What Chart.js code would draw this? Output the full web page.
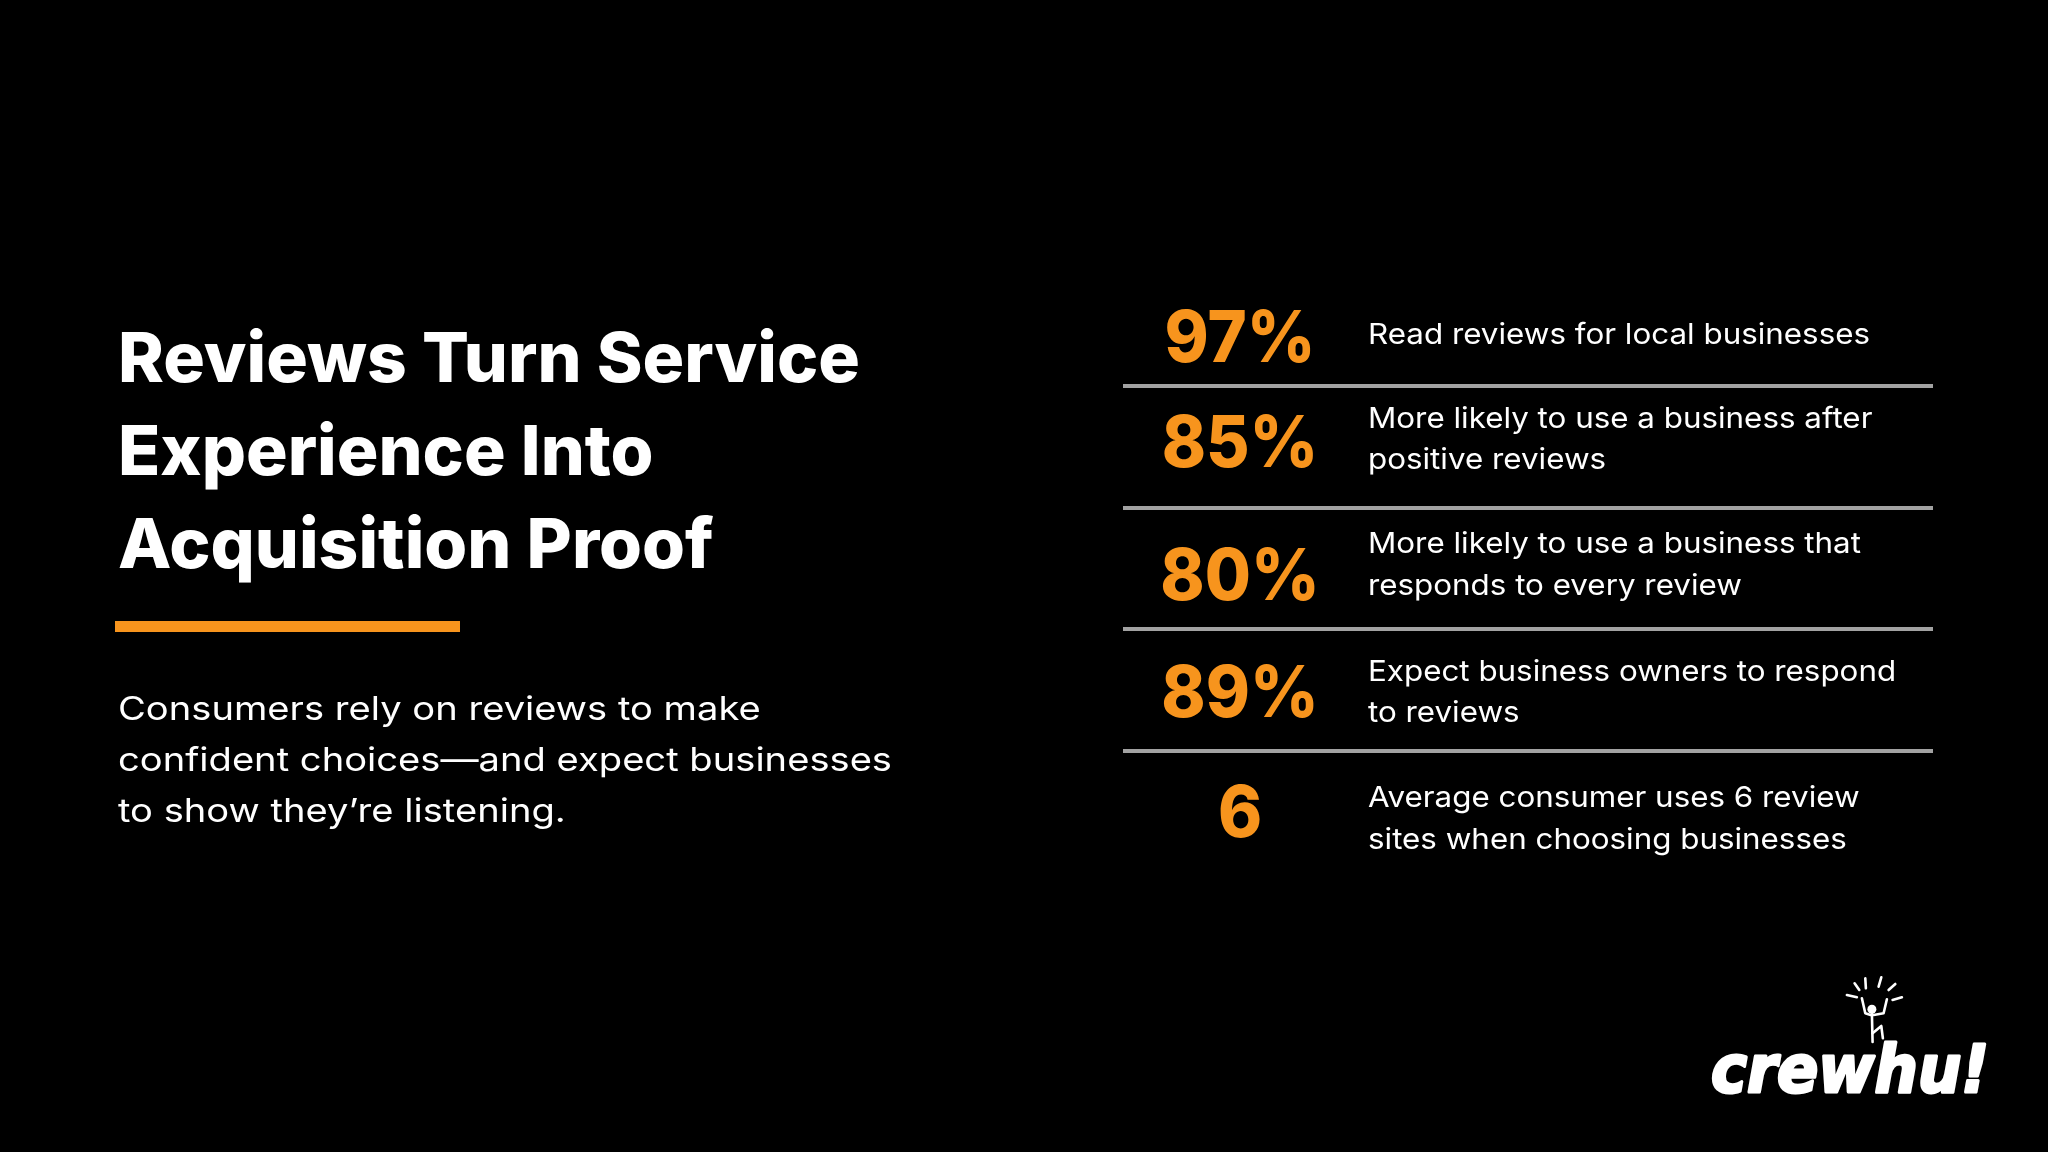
<!DOCTYPE html>
<html>
<head>
<meta charset="utf-8">
<title>Reviews Turn Service Experience Into Acquisition Proof</title>
<script src="https://cdn.jsdelivr.net/npm/chart.js@4.4.1/dist/chart.umd.min.js"></script>
<style>
  html, body { margin: 0; padding: 0; background: #000; }
  #wrap { position: relative; width: 2048px; height: 1152px; }
</style>
</head>
<body>
<div id="wrap"><canvas id="stats"></canvas></div>
<script>
// Data for the slide
const statValues = ['97%', '85%', '80%', '89%', '6'];
const statNumbers = [97, 85, 80, 89, 6];
const statLines = [
  ['Read reviews for local businesses'],
  ['More likely to use a business after', 'positive reviews'],
  ['More likely to use a business that', 'responds to every review'],
  ['Expect business owners to respond', 'to reviews'],
  ['Average consumer uses 6 review', 'sites when choosing businesses']
];
const headline = ['Reviews Turn Service', 'Experience Into', 'Acquisition Proof'];
const blurb = [
  'Consumers rely on reviews to make',
  'confident choices\u2014and expect businesses',
  'to show they\u2019re listening.'
];
const brand = 'crewhu!';

const ORANGE = '#F7941D';
const GRID = '#a2a2a2';
const FAMILY = 'Inter, "Open Sans", sans-serif';
// the original isn't perfectly centred in each row, small vertical shifts (px)
const numShift = [10, -6, 5, 1, 0];
const textShift = [8, -9, -5, 1, 6];

// size from cap height; returns the horizontal stretch that makes `sample` `width` wide
function fitFont(ctx, weight, cap, sample, width) {
  ctx.font = weight + ' ' + (cap / 0.727) + 'px ' + FAMILY;
  return width / ctx.measureText(sample).width;
}

function text(ctx, t, x, y, sx) {
  ctx.save();
  ctx.translate(x, y);
  ctx.scale(sx, 1);
  ctx.fillText(t, 0, 0);
  ctx.restore();
}

function line(ctx, pts, ox, oy) {
  ctx.beginPath();
  pts.forEach((p, i) => i ? ctx.lineTo(ox + p[0], oy + p[1]) : ctx.moveTo(ox + p[0], oy + p[1]));
  ctx.stroke();
}

const slidePlugin = {
  id: 'slide',
  afterDraw(chart) {
    const ctx = chart.ctx;
    const area = chart.chartArea;
    const meta = chart.getDatasetMeta(0);
    ctx.save();
    ctx.textBaseline = 'alphabetic';

    // big orange numbers, one per row
    ctx.textAlign = 'center';
    ctx.fillStyle = ORANGE;
    let sx = fitFont(ctx, 800, 52, statValues[0], 151);
    meta.data.forEach((bar, i) => {
      text(ctx, statValues[i], area.left + 117, bar.y + 26 + numShift[i], sx);
    });

    // row descriptions
    ctx.textAlign = 'left';
    ctx.fillStyle = '#ffffff';
    sx = fitFont(ctx, 400, 21, statLines[0][0], 502);
    const lh = 41.7;
    meta.data.forEach((bar, i) => {
      const lines = statLines[i];
      const first = bar.y - (21 + lh * (lines.length - 1)) / 2 + 21 + textShift[i];
      lines.forEach((t, j) => text(ctx, t, area.left + 245, first + j * lh, sx));
    });

    // left column: headline, rule, blurb
    sx = fitFont(ctx, 800, 50, headline[0], 742);
    headline.forEach((t, j) => text(ctx, t, 118, 381.7 + j * 93.2, sx));
    ctx.fillStyle = ORANGE;
    ctx.fillRect(115, 621, 345, 11);
    ctx.fillStyle = '#ffffff';
    sx = fitFont(ctx, 400, 24, blurb[1], 774);
    blurb.forEach((t, j) => text(ctx, t, 118, 720 + j * 51, sx));

    // logo
    ctx.font = 'italic bold 66px "DejaVu Sans", sans-serif';
    const lsx = 278 / ctx.measureText(brand).width;
    const lx = 1711, ly = 1092;
    ctx.strokeStyle = '#ffffff';
    ctx.lineWidth = 3;
    ctx.lineJoin = 'round';
    ctx.save();
    ctx.translate(lx, ly);
    ctx.scale(lsx, 1);
    ctx.fillText(brand, 0, 0);
    ctx.strokeText(brand, 0, 0);
    ctx.restore();
    const hx = lx + ctx.measureText('crew').width * lsx;

    // little figure cheering on top of the "h"
    ctx.lineWidth = 2.6;
    ctx.lineCap = 'round';
    ctx.beginPath();
    ctx.arc(hx - 2.7, ly - 82.7, 4.5, 0, Math.PI * 2);
    ctx.fill();
    line(ctx, [[-12.7, -93.7], [-9.3, -78.7], [-4, -77]], hx, ly);
    line(ctx, [[12.3, -92.7], [9, -78.7], [-1, -77]], hx, ly);
    line(ctx, [[-2.7, -79], [-2, -50]], hx, ly);
    line(ctx, [[-2, -58.7], [6.7, -66], [8.3, -53.7]], hx, ly);
    [
      [[-27.7, -97], [-17.7, -94.7]],
      [[-20, -108.7], [-15.3, -102]],
      [[-9.3, -113.7], [-8.7, -103.7]],
      [[6.7, -114.7], [4, -105.3]],
      [[20.7, -108], [14, -102]],
      [[27.3, -94.7], [18, -92]]
    ].forEach(r => line(ctx, r, hx, ly));

    ctx.restore();
  }
};

window.onload = function () {
  const ctx = document.getElementById('stats').getContext('2d');
  new Chart(ctx, {
    type: 'bar',
    data: {
      labels: statValues,
      datasets: [{
        data: statNumbers,
        backgroundColor: 'rgba(0,0,0,0)',
        borderWidth: 0
      }]
    },
    options: {
      indexAxis: 'y',
      responsive: true,
      maintainAspectRatio: false,
      animation: false,
      layout: { padding: { left: 1123, right: 115, top: 265, bottom: 280 } },
      plugins: {
        legend: { display: false },
        tooltip: { enabled: false }
      },
      scales: {
        x: { display: false, min: 0, max: 100 },
        y: {
          offset: true,
          border: { display: false },
          ticks: { display: false },
          grid: {
            offset: true,
            drawTicks: false,
            lineWidth: 4,
            color: (c) => (c.type === 'tick' && c.index > 0) ? GRID : 'rgba(0,0,0,0)'
          }
        }
      }
    },
    plugins: [slidePlugin]
  });
};
</script>
</body>
</html>
